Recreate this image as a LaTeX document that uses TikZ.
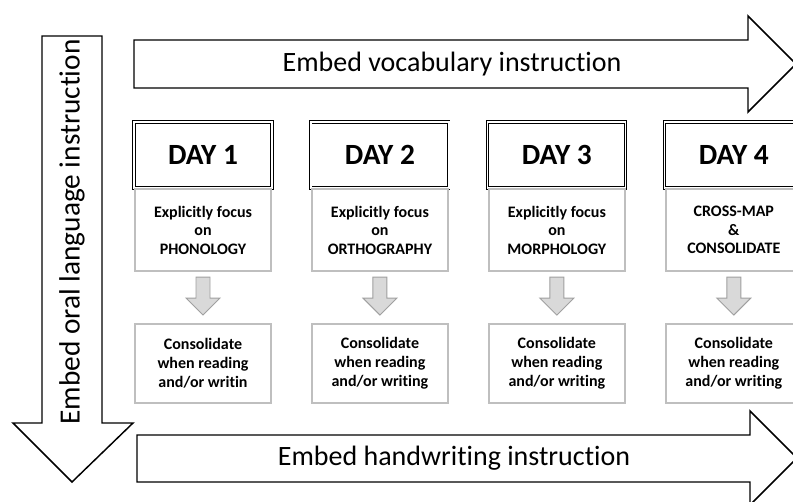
\documentclass[tikz,border=0pt]{standalone}
\usepackage{fontspec}
\setmainfont{Carlito}[Ligatures=NoCommon]
\usetikzlibrary{positioning,calc}
\definecolor{boxgrey}{RGB}{191,191,191}
\definecolor{arrowgrey}{RGB}{217,217,217}
\definecolor{arrowedge}{RGB}{160,160,160}

\begin{document}
\begin{tikzpicture}[
			x=0.75pt, y=-0.75pt,
			node distance=28.5pt,
			bigarrow/.style={draw=black, line width=1.1pt, fill=white, line join=miter},
			bigtext/.style={font=\fontsize{21}{25}\selectfont},
			head/.style={rectangle, draw=black, double, double distance=0.9pt, line width=0.7pt, minimum width=103.5pt, minimum height=49.5pt, inner sep=0pt, font=\fontsize{22}{26}\selectfont\bfseries},
			body/.style={rectangle, draw=boxgrey, line width=1.2pt, minimum width=102pt, minimum height=61.5pt, inner sep=0pt, align=center, font=\fontsize{12}{13.9}\selectfont\bfseries},
			cons/.style={body, minimum height=59.25pt, font=\fontsize{12}{14}\selectfont\bfseries},
			downarrow/.style={draw=arrowedge, fill=arrowgrey, line width=0.7pt, line join=miter}
			]
			\clip (0,0) rectangle (793,502);
			
			% Big arrows
			\draw[bigarrow] (134,40) -- (748,40) -- (748,16) -- (796,64) -- (748,112) -- (748,88) -- (134,88) -- cycle;
			\draw[bigarrow] (137,435) -- (750,435) -- (750,411) -- (797,458) -- (750,505) -- (750,482) -- (137,482) -- cycle;
			\draw[bigarrow] (42,36) -- (102,36) -- (102,423) -- (133,423) -- (72,482) -- (13,423) -- (42,423) -- cycle;
			\node[bigtext] (vocab) at (452,64) {Embed vocabulary instruction};
			\node[bigtext] (handwr) at (454,458) {Embed handwriting instruction};
			\node[bigtext, font=\fontsize{22}{26}\selectfont, rotate=90] (oral) at (72,232) {Embed oral language instruction};
			
			% Days
			\node[head] (head1) at (203,155) {DAY 1};
			\node[head, right=of head1] (head2) {DAY 2};
			\node[head, right=of head2] (head3) {DAY 3};
			\node[head, right=of head3] (head4) {DAY 4};
			
			\node[body, below=0pt of head1] (body1) {Explicitly focus\\on\\PHONOLOGY};
			\node[body, below=0pt of head2] (body2) {Explicitly focus\\on\\ORTHOGRAPHY};
			\node[body, below=0pt of head3] (body3) {Explicitly focus\\on\\MORPHOLOGY};
			\node[body, below=0pt of head4] (body4) {CROSS-MAP\\\&\\CONSOLIDATE};
			
			\node[cons, below=38.25pt of body1] (cons1) {Consolidate\\when reading\\and/or writin};
			\node[cons, below=38.25pt of body2] (cons2) {Consolidate\\when reading\\and/or writing};
			\node[cons, below=38.25pt of body3] (cons3) {Consolidate\\when reading\\and/or writing};
			\node[cons, below=38.25pt of body4] (cons4) {Consolidate\\when reading\\and/or writing};
			
			% Grey arrows
			\foreach \i in {1,...,4}{
				\draw[downarrow] ($(body\i.south)+(-7,5)$) -- ++(0,21) -- ++(-10,0) -- ($(body\i.south)+(0,43)$) -- ($(body\i.south)+(17,26)$) -- ++(-10,0) -- ($(body\i.south)+(7,5)$) -- cycle;
			}
		\end{tikzpicture}
\end{document}
